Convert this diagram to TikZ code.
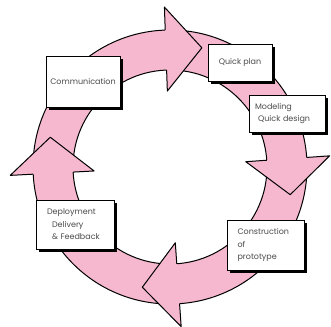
\documentclass[tikz,border=0pt]{standalone}
\usepackage{fontspec}
\setmainfont{Poppins}
\usetikzlibrary{calc,shadows}
\definecolor{ringpink}{RGB}{246,184,206}
\definecolor{txtgrey}{RGB}{75,75,75}
\begin{document}
\begin{tikzpicture}[x=1pt,y=-1pt,
  box/.style={draw=black, line width=0.8pt, fill=white, inner sep=0pt,
    font=\fontsize{8}{12.5}\selectfont, text=txtgrey,
    general shadow={fill=black, shadow xshift=3.2pt, shadow yshift=-3.2pt}},
  edge/.style={draw=black, line width=1pt, line join=round}]
\useasboundingbox (0,0) rectangle (331,326);
\coordinate (C) at (170,167);
\fill[ringpink, even odd rule] (C) circle[radius=137pt] (C) circle[radius=97pt];
\draw[edge] (C) circle[radius=137pt];
\draw[edge] (C) circle[radius=97pt];
\foreach \a in {86,177,268,356}{
  \coordinate (hA) at ($(C)+(\a:160)$);
  \coordinate (hB) at ($(C)+(\a:76)$);
  \coordinate (hO) at ($(C)+(\a:137)$);
  \coordinate (hI) at ($(C)+(\a:97)$);
  \coordinate (hT) at ($(C)+(\a:118)+(\a+90:36)$);
  \fill[ringpink] (hA) -- (hT) -- (hB) -- cycle;
  \draw[edge] (hO) -- (hA) -- (hT) -- (hB) -- (hI);
}
\node[box, minimum width=74pt, minimum height=51pt] (comm) at (83,81.5) {Communication};
\node[box, minimum width=64pt, minimum height=37pt] (plan) at (240,62.5) {Quick plan};
\node[box, minimum width=76pt, minimum height=37pt, text width=64pt, align=left] (model) at (287,113.5) {Modeling\\\hspace*{3pt}Quick design};
\node[box, minimum width=77pt, minimum height=50pt, text width=56pt, align=left] (constr) at (265.5,245) {Construction\\of\\prototype};
\node[box, minimum width=78pt, minimum height=49pt, text width=56pt, align=left] (deploy) at (75,224.5) {Deployment\\\hspace*{5pt}Delivery\\\hspace*{5pt}\& Feedback};
\end{tikzpicture}
\end{document}
